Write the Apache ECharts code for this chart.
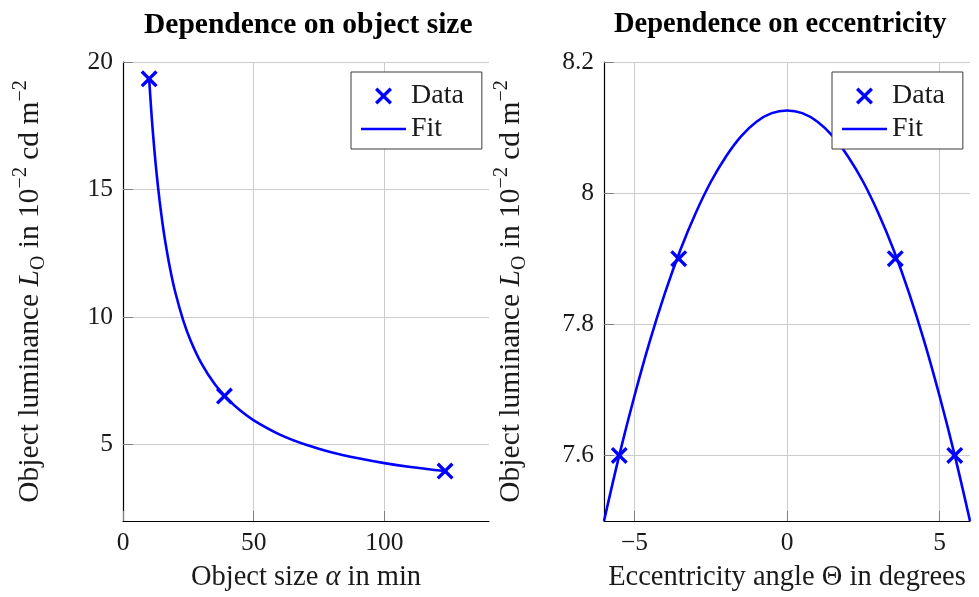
<!DOCTYPE html>
<html>
<head>
<meta charset="utf-8">
<title>Object luminance</title>
<script src="https://cdn.jsdelivr.net/npm/echarts@6/dist/echarts.min.js"></script>
<style>
  html, body { margin: 0; padding: 0; background: #ffffff; }
  #chart { width: 979px; height: 597px; }
</style>
</head>
<body>
<div id="chart"></div>
<script>
// Measured object sizes (min) and luminances (10^-2 cd m^-2)
const sizeX = [10, 38.8, 123.2];
const sizeL = [19.34, 6.9, 3.96];
// Fitted curve through the size measurements
const sizeFitX = [10, 11, 12, 13, 14, 15, 16, 18, 20, 23, 26, 30, 35, 40, 45, 50, 60, 70, 80, 90, 100, 110, 123.2];
const sizeFitL = [19.34, 17.82, 16.55, 15.48, 14.56, 13.76, 13.06, 11.90, 10.97, 9.88, 9.04, 8.18, 7.38, 6.79, 6.32, 5.95, 5.39, 4.99, 4.69, 4.46, 4.27, 4.12, 3.96];

// Measured eccentricity angles (degrees) and luminances
const eccX = [-5.5, -3.55, 3.55, 5.5];
const eccL = [7.6, 7.9, 7.9, 7.6];
// Fitted curve through the eccentricity measurements
const eccFitX = [-6, -5.5, -5, -4.5, -4, -3.5, -3, -2.5, -2, -1.5, -1, -0.5, 0, 0.5, 1, 1.5, 2, 2.5, 3, 3.5, 4, 4.5, 5, 5.5, 6];
const eccFitL = [7.500, 7.600, 7.691, 7.774, 7.848, 7.913, 7.969, 8.017, 8.056, 8.087, 8.109, 8.122, 8.126, 8.122, 8.109, 8.087, 8.056, 8.017, 7.969, 7.913, 7.848, 7.774, 7.691, 7.600, 7.500];

// Tick positions
const sizeTicksX = [0, 50, 100];
const sizeTicksY = [5, 10, 15, 20];
const eccTicksX = [-5, 0, 5];
const eccTicksY = [7.6, 7.8, 8, 8.2];

const titles = ['Dependence on object size', 'Dependence on eccentricity'];
const xNames = ['Object size {i|α} in min', 'Eccentricity angle Θ in degrees'];
const yName = '{n|Object luminance }{i|L}{sub|O}{n| in 10}{sup|−2}{n| cd m}{sup|−2}';

const FONT = "'Liberation Serif', 'DejaVu Serif', serif";
const BLUE = '#0000ff';
const INK = '#1a1a1a';
const GRID = '#cccccc';
const CROSS = 'path://M0,1.4L1.4,0L5,3.6L8.6,0L10,1.4L6.4,5L10,8.6L8.6,10L5,6.4L1.4,10L0,8.6L3.6,5Z';
const BAR = 'path://M0,0H45V2.6H0Z';

const zip = (xs, ys) => xs.map((x, i) => [x, ys[i]]);

const fmt = v => String(v).replace('-', '−');

function xAxis(idx, min, max, ticks) {
  return {
    type: 'value', gridIndex: idx, min: min, max: max,
    name: xNames[idx], nameLocation: 'middle', nameGap: 42,
    nameTextStyle: {
      fontFamily: FONT, fontSize: 28.5, color: INK,
      rich: { i: { fontFamily: FONT, fontSize: 28.5, fontStyle: 'italic', color: INK } }
    },
    axisLine: { show: true, onZero: false, lineStyle: { color: '#000', width: 1.2 } },
    axisTick: { show: true, inside: true, length: 10, customValues: ticks, lineStyle: { color: '#808080', width: 1 } },
    axisLabel: { customValues: ticks, margin: 9, fontFamily: FONT, fontSize: 25.5, color: INK, formatter: fmt },
    splitLine: { show: true, lineStyle: { color: GRID, width: 1 } }
  };
}

function yAxis(idx, min, max, ticks) {
  return {
    type: 'value', gridIndex: idx, min: min, max: max,
    name: yName, nameLocation: 'middle', nameGap: 74,
    nameTextStyle: {
      fontFamily: FONT, fontSize: 29.5, color: INK,
      rich: {
        n: { fontFamily: FONT, fontSize: 29.5, color: INK, lineHeight: 38 },
        i: { fontFamily: FONT, fontSize: 29.5, fontStyle: 'italic', color: INK, lineHeight: 38 },
        sub: { fontFamily: FONT, fontSize: 20, color: INK, lineHeight: 28, verticalAlign: 'bottom' },
        sup: { fontFamily: FONT, fontSize: 20, color: INK, lineHeight: 20, verticalAlign: 'top' }
      }
    },
    axisLine: { show: true, onZero: false, lineStyle: { color: '#000', width: 1.2 } },
    axisTick: { show: true, inside: true, length: 10, customValues: ticks, lineStyle: { color: '#808080', width: 1 } },
    axisLabel: { customValues: ticks, margin: 10, fontFamily: FONT, fontSize: 25.5, color: INK, formatter: fmt },
    splitLine: { show: true, lineStyle: { color: GRID, width: 1 } }
  };
}

function legend(left) {
  return {
    orient: 'vertical', left: left, top: 72,
    padding: [10, 18, 6, 10], itemGap: 5,
    itemWidth: 45, itemHeight: 17,
    backgroundColor: '#ffffff', borderColor: '#3a3a3a', borderWidth: 1, borderRadius: 0,
    selectedMode: false,
    textStyle: { fontFamily: FONT, fontSize: 28, color: INK },
    data: [
      { name: 'Data', icon: CROSS, itemStyle: { color: BLUE, borderWidth: 0, opacity: 1 } },
      { name: 'Fit', icon: BAR, itemStyle: { color: BLUE, borderWidth: 0, opacity: 1 } }
    ]
  };
}

function dataSeries(idx, pts) {
  return {
    name: 'Data', type: 'scatter', xAxisIndex: idx, yAxisIndex: idx,
    data: pts, symbol: CROSS, symbolSize: 17, z: 4,
    itemStyle: { color: BLUE, opacity: 1 }
  };
}

function fitSeries(idx, pts) {
  return {
    name: 'Fit', type: 'line', xAxisIndex: idx, yAxisIndex: idx,
    data: pts, symbol: 'none', smooth: 0.35, z: 3,
    lineStyle: { color: BLUE, width: 2.6 }, itemStyle: { color: BLUE },
    clip: true
  };
}

const chart = echarts.init(document.getElementById('chart'), null, { renderer: 'canvas' });
chart.setOption({
  backgroundColor: '#ffffff',
  animation: false,
  title: [
    { text: titles[0], left: 144, top: 10, padding: 0,
      textStyle: { fontFamily: FONT, fontSize: 29.5, fontWeight: 'bold', color: '#000' } },
    { text: titles[1], left: 614, top: 10, padding: 0,
      textStyle: { fontFamily: FONT, fontSize: 28.5, fontWeight: 'bold', color: '#000' } }
  ],
  grid: [
    { left: 123, top: 62, width: 366, height: 461 },
    { left: 604, top: 62, width: 366, height: 461 }
  ],
  xAxis: [xAxis(0, 0, 140, sizeTicksX), xAxis(1, -6, 6, eccTicksX)],
  yAxis: [yAxis(0, 2, 20, sizeTicksY), yAxis(1, 7.5, 8.2, eccTicksY)],
  legend: [legend(351), legend(832)],
  series: [
    fitSeries(0, zip(sizeFitX, sizeFitL)),
    dataSeries(0, zip(sizeX, sizeL)),
    fitSeries(1, zip(eccFitX, eccFitL)),
    dataSeries(1, zip(eccX, eccL))
  ]
});
</script>
</body>
</html>
